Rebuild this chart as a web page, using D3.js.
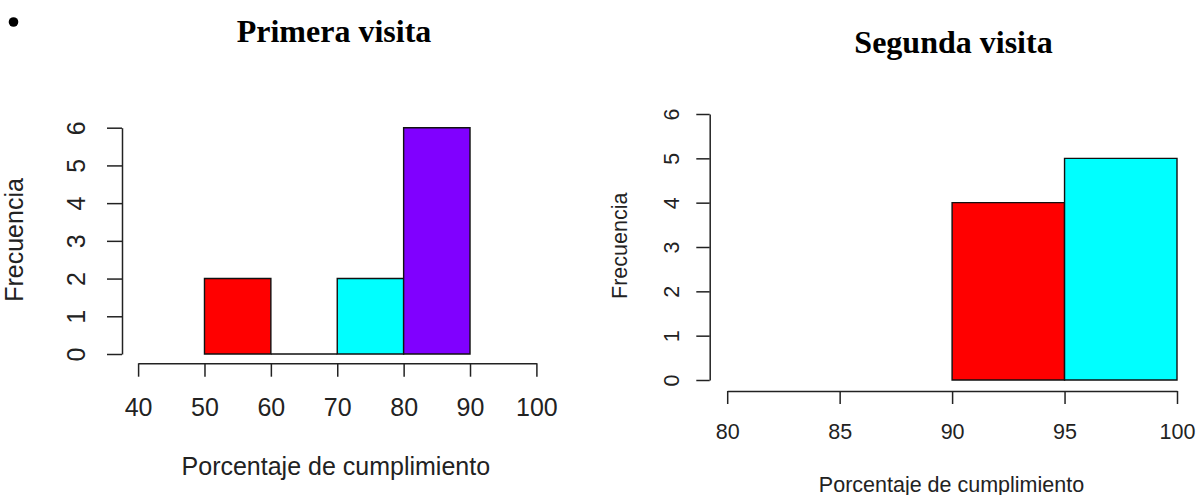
<!DOCTYPE html>
<html>
<head>
<meta charset="utf-8">
<script src="https://cdn.jsdelivr.net/npm/d3@7"></script>
<style>
  html, body { margin: 0; padding: 0; background: #fff; }
  svg { display: block; }
  .axis path, .axis line { stroke: #222; stroke-width: 1.5px; }
  .axis text { fill: #222; font-family: "Liberation Sans", Arial, sans-serif; }
  .lab { fill: #222; font-family: "Liberation Sans", Arial, sans-serif; }
  .ttl { fill: #000; font-family: "Liberation Serif", "Times New Roman", serif; font-weight: bold; }
</style>
</head>
<body>
<svg id="chart" width="1196" height="495"></svg>
<script>
// Histogram of compliance percentage, first visit
const binEdges1 = [50, 60, 70, 80, 90];
const counts1 = [2, 0, 2, 6];
const palette1 = ["#FF0000", "#80FF00", "#00FFFF", "#8000FF"];
const xTicks1 = [40, 50, 60, 70, 80, 90, 100];

// Histogram of compliance percentage, second visit
const binEdges2 = [90, 95, 100];
const counts2 = [4, 5];
const palette2 = ["#FF0000", "#00FFFF"];
const xTicks2 = [80, 85, 90, 95, 100];

const yTicks = [0, 1, 2, 3, 4, 5, 6];

const titles = ["Primera visita", "Segunda visita"];
const xTitle = "Porcentaje de cumplimiento";
const yTitle = "Frecuencia";

const svg = d3.select("#chart");

// list bullet at the top left
svg.append("circle").attr("cx", 13.5).attr("cy", 22).attr("r", 4.8).attr("fill", "#000");

function histogram(cfg) {
  const { edges, counts, palette, xTicks, xDomain, xRange, yRange,
          yAxisX, xAxisY, font, yTickLen, xTickLen, xPad, yLabOff,
          title, titleX, titleY, titleSize, xTitleX, xTitleY, yTitleX, yTitleY } = cfg;

  const x = d3.scaleLinear().domain(xDomain).range(xRange);
  const y = d3.scaleLinear().domain([0, 6]).range(yRange);

  const bins = counts.map((c, i) => ({ x0: edges[i], x1: edges[i + 1], n: c, fill: palette[i] }));

  // bars as closed paths so that an empty bin still shows its outline on the baseline
  svg.append("g").selectAll("path").data(bins).join("path")
    .attr("d", d => {
      const p = d3.path();
      p.moveTo(x(d.x0), y(0));
      p.lineTo(x(d.x0), y(d.n));
      p.lineTo(x(d.x1), y(d.n));
      p.lineTo(x(d.x1), y(0));
      p.closePath();
      return p.toString();
    })
    .attr("fill", d => d.fill)
    .attr("stroke", "#111")
    .attr("stroke-width", 1.4);

  // y axis: labels parallel to the axis
  const gy = svg.append("g").attr("class", "axis")
    .attr("transform", `translate(${yAxisX},0)`)
    .call(d3.axisLeft(y).tickValues(yTicks).tickSize(yTickLen).tickSizeOuter(0).tickFormat(d3.format("d")));
  gy.selectAll("text")
    .attr("x", 0).attr("dy", "0.36em")
    .attr("text-anchor", "middle")
    .style("font-size", font + "px")
    .attr("transform", `translate(${yLabOff},0) rotate(-90)`);

  // x axis, offset below the bars
  const gx = svg.append("g").attr("class", "axis")
    .attr("transform", `translate(0,${xAxisY})`)
    .call(d3.axisBottom(x).tickValues(xTicks).tickSize(xTickLen).tickSizeOuter(0).tickPadding(xPad).tickFormat(d3.format("d")));
  gx.selectAll("text").style("font-size", font + "px");

  svg.append("text").attr("class", "ttl")
    .attr("x", titleX).attr("y", titleY)
    .attr("text-anchor", "middle")
    .style("font-size", titleSize + "px")
    .text(title);

  svg.append("text").attr("class", "lab")
    .attr("x", xTitleX).attr("y", xTitleY)
    .attr("text-anchor", "middle")
    .style("font-size", font + "px")
    .text(xTitle);

  svg.append("text").attr("class", "lab")
    .attr("text-anchor", "middle")
    .attr("transform", `translate(${yTitleX},${yTitleY}) rotate(-90)`)
    .attr("dy", "0.36em")
    .style("font-size", font + "px")
    .text(yTitle);
}

histogram({
  edges: binEdges1, counts: counts1, palette: palette1, xTicks: xTicks1,
  xDomain: [40, 100], xRange: [138.1, 536.4], yRange: [354, 127.7],
  yAxisX: 122, xAxisY: 363.3, font: 25, yTickLen: 15, xTickLen: 13.4, xPad: 21.5, yLabOff: -46.5,
  title: titles[0], titleX: 334, titleY: 42, titleSize: 32,
  xTitleX: 335.8, xTitleY: 475, yTitleX: 14.2, yTitleY: 240
});

histogram({
  edges: binEdges2, counts: counts2, palette: palette2, xTicks: xTicks2,
  xDomain: [80, 100], xRange: [727.2, 1177], yRange: [380, 114],
  yAxisX: 709.7, xAxisY: 391, font: 21.5, yTickLen: 13.4, xTickLen: 13, xPad: 19.3, yLabOff: -38.5,
  title: titles[1], titleX: 953.5, titleY: 53.3, titleSize: 32,
  xTitleX: 951.5, xTitleY: 491.5, yTitleX: 619.2, yTitleY: 245.8
});
</script>
</body>
</html>
